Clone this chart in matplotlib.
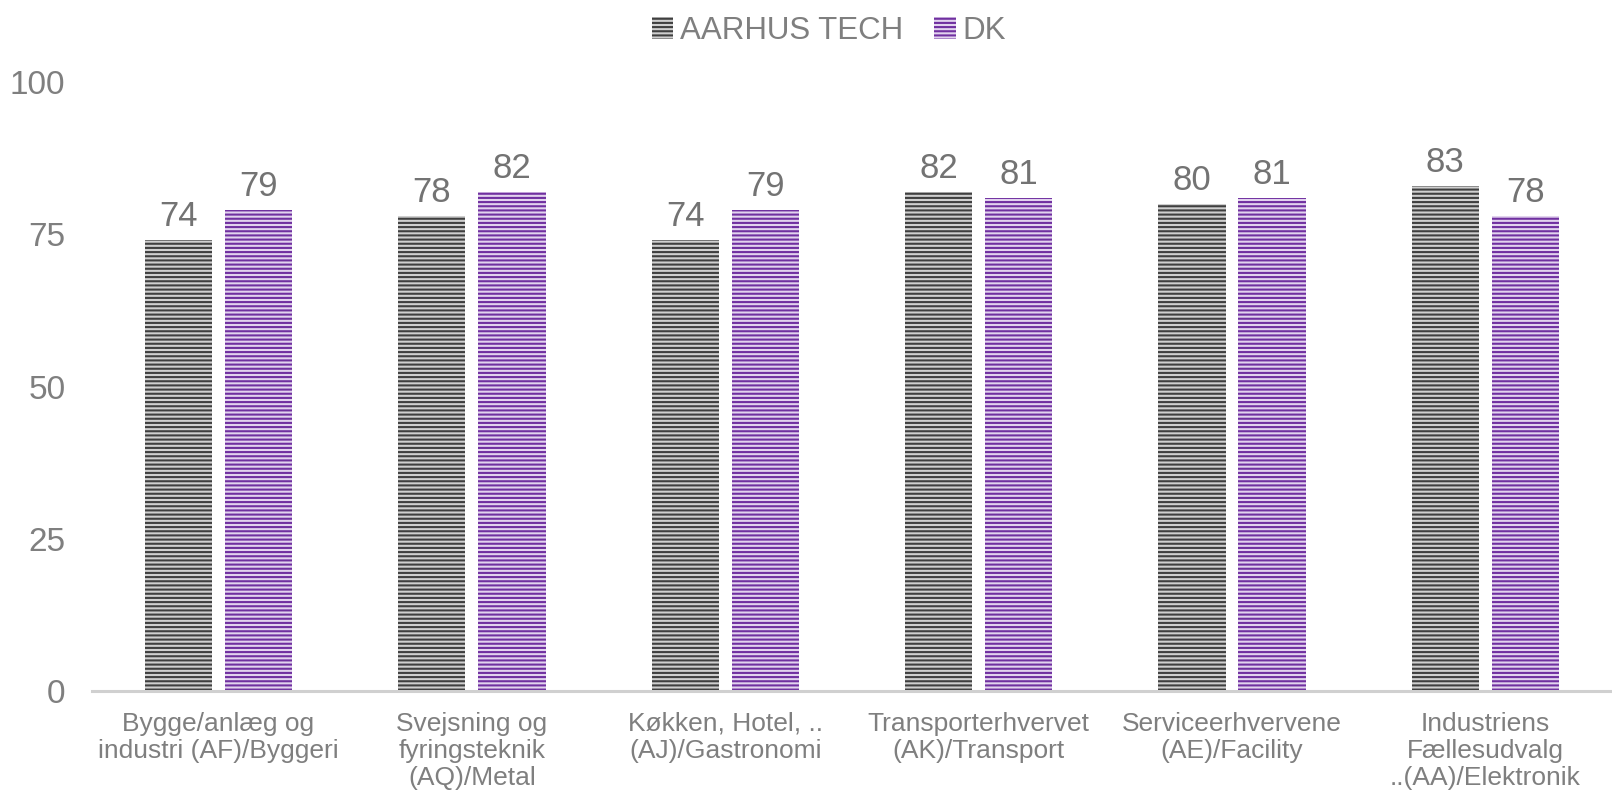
import matplotlib
matplotlib.use("Agg")
import matplotlib.pyplot as plt
import numpy as np

categories = ["Bygge/anlæg og\nindustri (AF)/Byggeri",
              "Svejsning og\nfyringsteknik\n(AQ)/Metal",
              "Køkken, Hotel, ..\n(AJ)/Gastronomi",
              "Transporterhvervet\n(AK)/Transport",
              "Serviceerhvervene\n(AE)/Facility",
              "Industriens\nFællesudvalg\n..(AA)/Elektronik"]
aarhus = [74, 78, 74, 82, 80, 83]
dk = [79, 82, 79, 81, 81, 78]
series_names = ["AARHUS TECH", "DK"]
yticks = [0, 25, 50, 75, 100]

plt.rcParams['font.family'] = ['Liberation Sans', 'DejaVu Sans']
plt.rcParams['hatch.linewidth'] = 1.5

fig = plt.figure(figsize=(16.12, 7.97), dpi=100)
ax = fig.add_axes([0.057, 0.133, 0.943, 0.764])

x = np.arange(len(categories))
w = 0.265
off = 0.158
text_col = "#7f7f7f"
b1 = ax.bar(x - off, aarhus, w, facecolor="#cfcfcf", edgecolor="#3f3f3f",
            hatch="----", linewidth=0, label=series_names[0])
b2 = ax.bar(x + off, dk, w, facecolor="#e2d3ee", edgecolor="#7030a0",
            hatch="----", linewidth=0, label=series_names[1])

for bars, vals in ((b1, aarhus), (b2, dk)):
    for r, v in zip(bars, vals):
        ax.annotate(str(v), (r.get_x() + r.get_width() / 2, v),
                    xytext=(0, 5), textcoords="offset points",
                    ha="center", va="bottom", fontsize=25, color="#737373")

ax.set_xlim(-0.5, len(categories) - 0.5)
ax.set_ylim(0, 100)
ax.set_yticks(yticks)
ax.set_yticklabels([str(t) for t in yticks], fontsize=24, color=text_col)
ax.set_xticks(x)
ax.set_xticklabels(categories, fontsize=19, color=text_col, linespacing=1.17)
ax.tick_params(axis='both', length=0)
ax.tick_params(axis='x', pad=15)
ax.tick_params(axis='y', pad=19)
for s in ("top", "right", "left"):
    ax.spines[s].set_visible(False)
ax.spines["bottom"].set_color("#d0d0d0")
ax.spines["bottom"].set_linewidth(2.2)

leg = fig.legend(handles=[b1, b2], labels=series_names, loc="center",
                 bbox_to_anchor=(0.514, 0.961), ncol=2, frameon=False,
                 fontsize=22.5, handlelength=0.7, handleheight=0.7,
                 handletextpad=0.2, columnspacing=1.0)
for t in leg.get_texts():
    t.set_color(text_col)

fig.savefig("out.png", dpi=100)
